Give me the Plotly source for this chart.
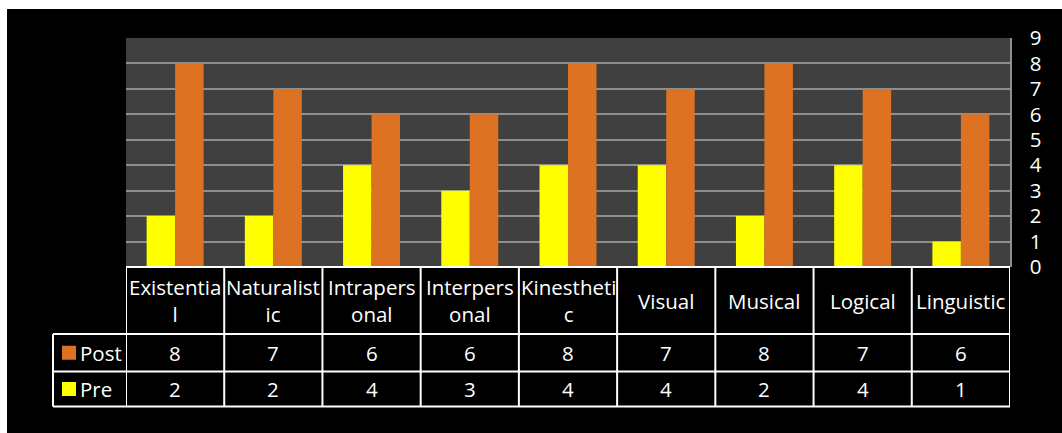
import plotly.graph_objects as go

categories = ["Existential", "Naturalistic", "Intrapersonal", "Interpersonal",
              "Kinesthetic", "Visual", "Musical", "Logical", "Linguistic"]
header_labels = ["Existentia<br>l", "Naturalist<br>ic", "Intrapers<br>onal", "Interpers<br>onal",
                 "Kinestheti<br>c", "Visual", "Musical", "Logical", "Linguistic"]
post = [8, 7, 6, 6, 8, 7, 8, 7, 6]
pre = [2, 2, 4, 3, 4, 4, 2, 4, 1]
y_ticks = list(range(0, 10))

W, H = 1062, 433
L, R, T, B = 126, 1010, 38, 267
PW, PH = R - L, B - T

def px_x(px):
    return (px - L) / PW

def px_y(py):
    return (B - py) / PH

ORANGE = "#DC7222"
YELLOW = "#FFFF00"
FONT = "Open Sans, sans-serif"
FS = 20.5

xs = list(range(len(categories)))

fig = go.Figure()
fig.add_trace(go.Bar(x=xs, y=pre, name="Pre", marker=dict(color=YELLOW, line=dict(width=0))))
fig.add_trace(go.Bar(x=xs, y=post, name="Post", marker=dict(color=ORANGE, line=dict(width=0))))

shapes = []
annotations = []
WHITE_LINE = dict(color="white", width=2)

row_header_bottom = 334
row_post_bottom = 371.5
row_pre_bottom = 406.5
legend_left = 53

shapes.append(dict(type="line", xref="paper", yref="paper", x0=0, x1=1,
                   y0=px_y(B), y1=px_y(B), line=WHITE_LINE, layer="above"))
for yy in [row_header_bottom, row_post_bottom, row_pre_bottom]:
    shapes.append(dict(type="line", xref="paper", yref="paper", x0=px_x(legend_left), x1=1,
                       y0=px_y(yy), y1=px_y(yy), line=WHITE_LINE, layer="above"))
for i in range(len(categories) + 1):
    shapes.append(dict(type="line", xref="x", yref="paper", x0=i - 0.5, x1=i - 0.5,
                       y0=px_y(B), y1=px_y(row_pre_bottom), line=WHITE_LINE, layer="above"))
shapes.append(dict(type="line", xref="paper", yref="paper", x0=px_x(legend_left), x1=px_x(legend_left),
                   y0=px_y(row_header_bottom), y1=px_y(row_pre_bottom), line=WHITE_LINE, layer="above"))

# legend swatches
for color, yc in [(ORANGE, (row_header_bottom + row_post_bottom) / 2),
                  (YELLOW, (row_post_bottom + row_pre_bottom) / 2)]:
    shapes.append(dict(type="rect", xref="paper", yref="paper", x0=px_x(62), x1=px_x(76),
                       y0=px_y(yc + 7), y1=px_y(yc - 7), fillcolor=color, line=dict(width=0),
                       layer="above"))

# white frame strips (top and left)
shapes.append(dict(type="rect", xref="paper", yref="paper", x0=px_x(0), x1=px_x(W),
                   y0=px_y(9), y1=px_y(0), fillcolor="white", line=dict(width=0), layer="above"))
shapes.append(dict(type="rect", xref="paper", yref="paper", x0=px_x(0), x1=px_x(7),
                   y0=px_y(H), y1=px_y(0), fillcolor="white", line=dict(width=0), layer="above"))

font = dict(family=FONT, size=FS, color="white")
for i, lab in enumerate(header_labels):
    annotations.append(dict(x=i, y=px_y((B + row_header_bottom) / 2), xref="x", yref="paper",
                            text=lab, showarrow=False, font=font, xanchor="center", yanchor="middle"))
    annotations.append(dict(x=i, y=px_y((row_header_bottom + row_post_bottom) / 2), xref="x", yref="paper",
                            text=str(post[i]), showarrow=False, font=font, xanchor="center", yanchor="middle"))
    annotations.append(dict(x=i, y=px_y((row_post_bottom + row_pre_bottom) / 2), xref="x", yref="paper",
                            text=str(pre[i]), showarrow=False, font=font, xanchor="center", yanchor="middle"))

annotations.append(dict(x=px_x(78), y=px_y((row_header_bottom + row_post_bottom) / 2),
                        xref="paper", yref="paper", text="Post", showarrow=False,
                        font=font, xanchor="left", yanchor="middle"))
annotations.append(dict(x=px_x(78), y=px_y((row_post_bottom + row_pre_bottom) / 2),
                        xref="paper", yref="paper", text="Pre", showarrow=False,
                        font=font, xanchor="left", yanchor="middle"))

fig.update_layout(
    width=W, height=H,
    margin=dict(l=L, r=W - R, t=T, b=H - B, pad=0),
    paper_bgcolor="black",
    plot_bgcolor="#404040",
    barmode="group",
    bargap=0.42,
    bargroupgap=0,
    showlegend=False,
    shapes=shapes,
    annotations=annotations,
    xaxis=dict(range=[-0.5, len(categories) - 0.5], showticklabels=False, showgrid=False,
               zeroline=False, ticks="", fixedrange=True),
    yaxis=dict(range=[0, 9], side="right", tickvals=y_ticks, ticktext=[str(v) for v in y_ticks],
               showgrid=True, gridcolor="#8F8F8F", gridwidth=1.5, zeroline=False,
               showline=True, linecolor="#8F8F8F", linewidth=1.5,
               ticks="outside", ticklen=14, tickcolor="black",
               tickfont=dict(family=FONT, size=FS, color="white"), fixedrange=True),
)

fig.write_html("out.html", config={"displayModeBar": False})
